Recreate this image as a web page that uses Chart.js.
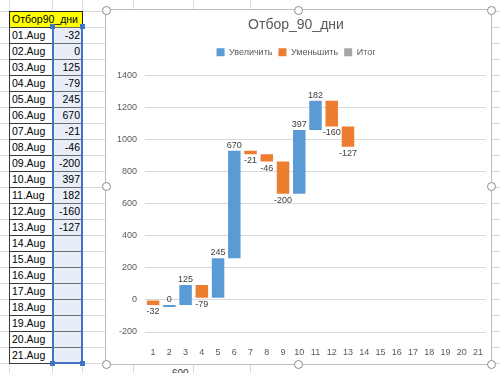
<!DOCTYPE html>
<html>
<head>
<meta charset="utf-8">
<script src="https://cdn.jsdelivr.net/npm/chart.js@4"></script>
<style>
  html, body { margin: 0; padding: 0; }
  body { width: 500px; height: 373px; position: relative; overflow: hidden; background: #fff;
         font-family: "Liberation Sans", Arial, sans-serif; }
  .abs { position: absolute; box-sizing: border-box; }
  .cell { font-size: 10.5px; line-height: 15px; color: #000; white-space: nowrap; }
  .handle { position: absolute; width: 9px; height: 9px; border-radius: 50%; background: #fff;
            border: 1px solid #8c8c8c; box-sizing: border-box; }
  .sel { position: absolute; width: 5px; height: 5px; background: #3f74c9; }
  #frame { left: 105px; top: 9px; width: 387px; height: 356px; background: #fff; border: 1px solid #bdbdbd; }
  #chart { position: absolute; left: 106px; top: 10px; }
</style>
</head>
<body>
<div id="sheet"></div>
<div id="frame" class="abs"></div>
<canvas id="chart" width="385" height="354"></canvas>
<div id="handles"></div>
<script>
// sheet column + chart data
const sheetTitle = 'Отбор90_дни';
const days = ['01.Aug','02.Aug','03.Aug','04.Aug','05.Aug','06.Aug','07.Aug','08.Aug','09.Aug','10.Aug',
              '11.Aug','12.Aug','13.Aug','14.Aug','15.Aug','16.Aug','17.Aug','18.Aug','19.Aug','20.Aug','21.Aug'];
const changes = [-32, 0, 125, -79, 245, 670, -21, -46, -200, 397, 182, -160, -127];
const categories = ['1','2','3','4','5','6','7','8','9','10','11','12','13','14','15','16','17','18','19','20','21'];
const seriesNames = ['Увеличить', 'Уменьшить', 'Итог'];
const yMin = -200, yMax = 1400, yStep = 200;
const chartTitle = 'Отбор_90_дни';

const colUp = '#5b9bd5', colDown = '#ed7d31', colTotal = '#a5a5a5';
const textGrey = '#595959';

// ---- spreadsheet behind the chart ----
const sheet = document.getElementById('sheet');
function box(x, y, w, h, css) {
  const d = document.createElement('div');
  d.className = 'abs';
  d.style.cssText += `left:${x}px;top:${y}px;width:${w}px;height:${h}px;` + (css || '');
  sheet.appendChild(d);
  return d;
}
// light grid lines
for (let k = -1; k < 24; k++) box(0, 11 + 16 * k, 500, 1, 'background:#dadada');
[9, 52, 82, 133, 193, 250].forEach(x => box(x, 0, 1, 373, 'background:#dadada'));

// header cell
const hd = box(9, 11, 74, 17, 'background:#ffff00;border:1px solid #202020;');
hd.className += ' cell';
hd.style.paddingLeft = '2px';
hd.textContent = sheetTitle;

// date / value cells
days.forEach((d, i) => {
  const y = 27 + 16 * i;
  const a = box(9, y, 44, 17, 'border:1px solid #3a3a3a;padding-left:2px;');
  a.className += ' cell';
  a.textContent = d;
  const b = box(52, y, 31, 17, 'background:#e8eef8;border-top:1px solid #6d6d6d;border-bottom:1px solid #6d6d6d;text-align:right;padding-right:3px;');
  b.className += ' cell';
  b.textContent = i < changes.length ? changes[i] : '';
});
// selection border
box(52, 26, 2, 338, 'background:#3f74c9');
box(81, 26, 2, 338, 'background:#3f74c9');
box(52, 362, 31, 2, 'background:#3f74c9');
[[50, 24], [80, 24], [50, 361], [80, 361]].forEach(([x, y]) => {
  const s = document.createElement('div'); s.className = 'sel';
  s.style.left = x + 'px'; s.style.top = y + 'px'; sheet.appendChild(s);
});
const c600 = box(172, 368, 30, 12, 'font-size:10px;line-height:12px;color:#333;');
c600.textContent = '600';

// ---- waterfall ranges built from the changes ----
const rises = [], falls = [];
let run = 0;
categories.forEach((c, i) => {
  const v = changes[i];
  if (v === undefined) { rises.push(null); falls.push(null); return; }
  const start = run;
  run += v;
  if (v >= 0) { rises.push([start, run]); falls.push(null); }
  else { falls.push([start, run]); rises.push(null); }
});

const barLabels = {
  id: 'barLabels',
  afterDatasetsDraw(chart) {
    const ctx = chart.ctx;
    ctx.save();
    ctx.font = '9px "Liberation Sans"';
    ctx.fillStyle = '#404040';
    ctx.textAlign = 'center';
    chart.data.datasets.forEach((ds, di) => {
      chart.getDatasetMeta(di).data.forEach((bar, i) => {
        if (!ds.data[i]) return;
        const v = changes[i];
        const top = Math.min(bar.y, bar.base), bottom = Math.max(bar.y, bar.base);
        if (v >= 0) { ctx.textBaseline = 'bottom'; ctx.fillText(String(v), bar.x, top - 1); }
        else { ctx.textBaseline = 'top'; ctx.fillText(String(v), bar.x, bottom + 2); }
      });
    });
    ctx.restore();
  }
};

const tickFont = { family: 'Liberation Sans', size: 9 };

new Chart(document.getElementById('chart'), {
  type: 'bar',
  data: {
    labels: categories,
    datasets: [
      { label: seriesNames[0], data: rises, backgroundColor: colUp, minBarLength: 2 },
      { label: seriesNames[1], data: falls, backgroundColor: colDown },
      { label: seriesNames[2], data: categories.map(() => null), backgroundColor: colTotal }
    ]
  },
  options: {
    responsive: false,
    animation: false,
    grouped: false,
    barPercentage: 0.77,
    categoryPercentage: 1,
    layout: { padding: { left: 0, right: 5, top: 0, bottom: 0 } },
    plugins: {
      tooltip: { enabled: false },
      title: {
        display: true, text: chartTitle, color: textGrey,
        font: { family: 'Liberation Sans', size: 14, weight: 'normal' },
        padding: { top: 7, bottom: 8 }
      },
      legend: {
        labels: { color: textGrey, font: tickFont, boxWidth: 8, boxHeight: 8, padding: 6 }
      }
    },
    scales: {
      x: {
        grid: { display: false }, border: { display: false },
        ticks: { color: textGrey, font: tickFont, padding: 7, maxRotation: 0, autoSkip: false },
        afterFit(s) { s.height = 32; }
      },
      spacer: {
        type: 'category', position: 'top', labels: categories,
        grid: { display: false }, border: { display: false }, ticks: { display: false },
        afterFit(s) { s.height = 8.5; }
      },
      y: {
        min: yMin, max: yMax,
        grid: { color: '#d9d9d9', drawTicks: false }, border: { display: false },
        ticks: { stepSize: yStep, color: textGrey, font: tickFont, padding: 8, callback: v => String(v) },
        afterFit(s) { s.width = 39; }
      }
    }
  },
  plugins: [barLabels]
});

// chart selection handles
const hs = document.getElementById('handles');
[[106, 10], [298, 10], [491, 10], [106, 186], [491, 186], [106, 364], [298, 364], [491, 364]].forEach(([x, y]) => {
  const h = document.createElement('div'); h.className = 'handle';
  h.style.left = (x - 4.5) + 'px'; h.style.top = (y - 4.5) + 'px'; hs.appendChild(h);
});
</script>
</body>
</html>
